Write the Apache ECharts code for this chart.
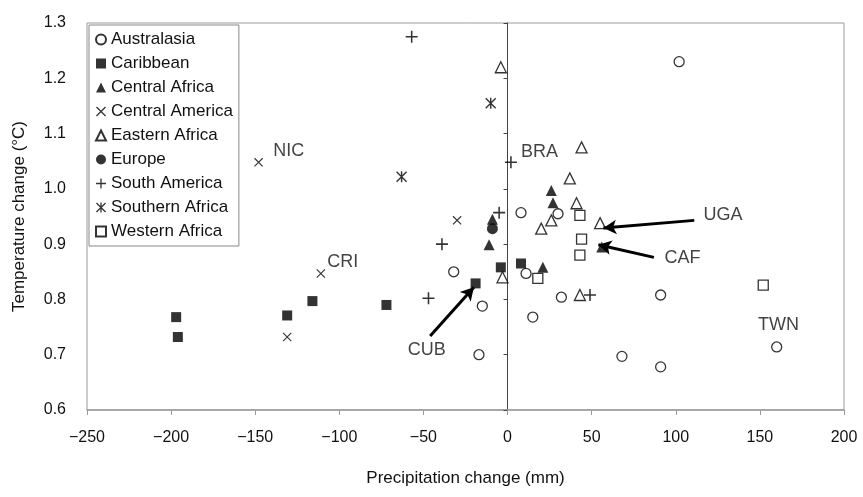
<!DOCTYPE html>
<html>
<head>
<meta charset="utf-8">
<script src="https://cdn.jsdelivr.net/npm/echarts@6/dist/echarts.min.js"></script>
<style>
  html, body { margin: 0; padding: 0; background: #fff; }
  #chart { width: 863px; height: 497px; }
</style>
</head>
<body>
<div id="chart"></div>
<script>
  // ---- data: [precipitation change (mm), temperature change (°C)] ----
  var australasia = [[102, 1.23], [8, 0.957], [30, 0.955], [-32, 0.85], [-15, 0.788], [-17, 0.70],
    [11, 0.847], [15, 0.768], [32, 0.804], [91, 0.808], [68, 0.697], [91, 0.678], [160, 0.714]]
  var caribbean = [[-197, 0.768], [-196, 0.732], [-131, 0.771], [-116, 0.797], [-72, 0.79],
    [-19, 0.829], [-4, 0.858], [8, 0.865]]
  var centralAfrica = [[26, 0.997], [27, 0.975], [-11, 0.899], [-9, 0.945], [21, 0.858], [56, 0.895]]
  var centralAmerica = [[-148, 1.048], [-111, 0.847], [-131, 0.732], [-30, 0.943]]
  var easternAfrica = [[-4, 1.22], [44, 1.075], [37, 1.019], [41, 0.974], [26, 0.943], [20, 0.928],
    [-3, 0.84], [43, 0.808], [55, 0.938]]
  var europe = [[-9, 0.928]]
  var southAmerica = [[-57, 1.275], [2, 1.048], [-5, 0.957], [-39, 0.9], [-47, 0.802], [49, 0.808]]
  var southernAfrica = [[-10, 1.155], [-63, 1.022]]
  var westernAfrica = [[18, 0.838], [43, 0.952], [44, 0.909], [43, 0.88], [152, 0.826]]

  // country labels: [x, y, text]
  var countryLabels = [[-130, 1.069, 'NIC'], [-98, 0.867, 'CRI'], [19, 1.066, 'BRA'],
    [128, 0.952, 'UGA'], [104, 0.874, 'CAF'], [-48, 0.708, 'CUB'], [161, 0.753, 'TWN']]
  // arrows: [fromX, fromY, toX, toY]
  var arrows = [[111, 0.943, 57, 0.929], [87, 0.876, 54, 0.899], [-46, 0.734, -20, 0.822]]

  var xTicks = { min: -250, max: 200, interval: 50 }
  var yTicks = { min: 0.6, max: 1.3, interval: 0.1 }

  var ink = '#000'
  var textInk = '#111'
  var font = 'Liberation Sans, Arial, sans-serif'

  // 符号
  var plusPath = 'path://M4.35,0h1.3v10h-1.3z M0,4.35h10v1.3h-10z'
  var crossPath = 'path://M0,0.9L0.9,0L10,9.1L9.1,10Z M9.1,0L10,0.9L0.9,10L0,9.1Z'
  var starPath = 'path://M0,0.9L0.9,0L10,9.1L9.1,10Z M9.1,0L10,0.9L0.9,10L0,9.1Z M4.35,0h1.3v10h-1.3z'

  var openStyle = { color: '#fff', borderColor: ink, borderWidth: 1.3 }
  var fillStyle = { color: ink, borderColor: ink, borderWidth: 0 }

  function mkSeries (name, data, symbol, size, style) {
    return {
      name: name,
      type: 'scatter',
      data: data,
      symbol: symbol,
      symbolSize: size,
      itemStyle: style,
      xAxisIndex: 0,
      yAxisIndex: 0
    }
  }

  var series = [
    mkSeries('Australasia', australasia, 'circle', 10, openStyle),
    mkSeries('Caribbean', caribbean, 'rect', 10, fillStyle),
    mkSeries('Central Africa', centralAfrica, 'triangle', 11, fillStyle),
    mkSeries('Central America', centralAmerica, crossPath, 9, fillStyle),
    mkSeries('Eastern Africa', easternAfrica, 'triangle', 11, openStyle),
    mkSeries('Europe', europe, 'circle', 11, fillStyle),
    mkSeries('South America', southAmerica, plusPath, 12, fillStyle),
    mkSeries('Southern Africa', southernAfrica, starPath, 11, fillStyle),
    mkSeries('Western Africa', westernAfrica, 'rect', 10, openStyle)
  ]

  // labels + arrows
  series.push({
    name: 'labels',
    type: 'scatter',
    symbolSize: 0,
    silent: true,
    data: countryLabels.map(function (d) { return { value: [d[0], d[1]], name: d[2] } }),
    label: {
      show: true,
      position: 'inside',
      formatter: '{b}',
      color: textInk,
      fontSize: 18,
      fontFamily: font
    },
    markLine: {
      silent: true,
      symbol: ['none', 'arrow'],
      symbolSize: [11, 13],
      label: { show: false },
      lineStyle: { color: ink, width: 3, type: 'solid' },
      data: arrows.map(function (a) {
        return [{ coord: [a[0], a[1]] }, { coord: [a[2], a[3]] }]
      })
    }
  })

  var chart = echarts.init(document.getElementById('chart'))
  chart.setOption({
    animation: false,
    backgroundColor: '#fff',
    textStyle: { fontFamily: font },
    grid: {
      left: 87, right: 19, top: 23, bottom: 87,
      show: true, borderColor: '#9a9a9a', borderWidth: 1
    },
    legend: {
      orient: 'vertical',
      left: 89, top: 25,
      padding: [6, 6, 6, 6],
      itemGap: 7,
      itemWidth: 10, itemHeight: 10,
      borderColor: '#888', borderWidth: 1,
      backgroundColor: '#fff',
      textStyle: { color: textInk, fontSize: 17, fontFamily: font, padding: [0, 0, 0, 0] },
      data: ['Australasia', 'Caribbean', 'Central Africa', 'Central America', 'Eastern Africa',
        'Europe', 'South America', 'Southern Africa', 'Western Africa']
    },
    xAxis: {
      type: 'value',
      min: xTicks.min, max: xTicks.max, interval: xTicks.interval,
      name: 'Precipitation change (mm)',
      nameLocation: 'middle',
      nameGap: 60,
      nameTextStyle: { color: textInk, fontSize: 17, fontFamily: font },
      axisLine: { show: true, onZero: false, lineStyle: { color: '#9a9a9a', width: 1.5 } },
      axisTick: { show: true, length: 5, lineStyle: { color: '#9a9a9a' } },
      axisLabel: {
        color: textInk, fontSize: 16, margin: 20, fontFamily: font,
        formatter: function (v) { return v < 0 ? '\u2212' + Math.abs(v) : String(v) }
      },
      splitLine: { show: false }
    },
    yAxis: [
      {
        type: 'value',
        min: yTicks.min, max: yTicks.max, interval: yTicks.interval,
        name: 'Temperature change (\u00B0C)',
        nameLocation: 'middle',
        nameGap: 59,
        nameTextStyle: { color: textInk, fontSize: 17, fontFamily: font },
        axisLine: { show: false, onZero: false },
        axisTick: { show: false },
        axisLabel: {
          color: textInk, fontSize: 16, margin: 21, fontFamily: font,
          formatter: function (v) { return v.toFixed(1) }
        },
        splitLine: { show: false }
      },
      {
        type: 'value',
        position: 'left',
        min: yTicks.min, max: yTicks.max, interval: yTicks.interval,
        axisLine: { show: true, onZero: true, onZeroAxisIndex: 0, lineStyle: { color: '#444', width: 1 } },
        axisTick: { show: true, length: 4, lineStyle: { color: '#444' } },
        axisLabel: { show: false },
        splitLine: { show: false }
      }
    ],
    series: series
  })
</script>
</body>
</html>
